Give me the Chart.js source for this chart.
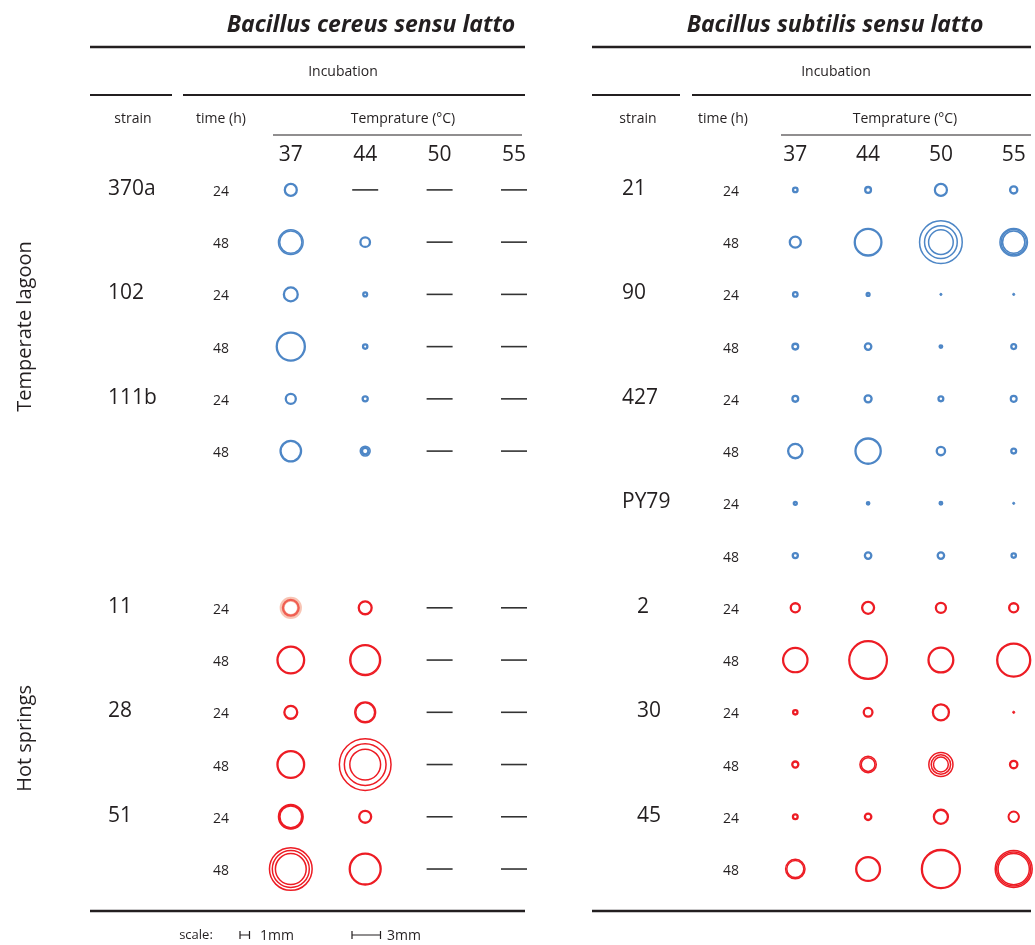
<!DOCTYPE html>
<html><head><meta charset="utf-8">
<script src="https://cdn.jsdelivr.net/npm/chart.js@4/dist/chart.umd.min.js"></script>
<style>html,body{margin:0;padding:0;background:#fff}#wrap{position:relative;width:1035px;height:945px}</style>
</head><body><div id="wrap"><canvas id="c" width="1035" height="945"></canvas></div>
<script>
// ---------------- DATA ----------------
const temperatures = ['37', '44', '50', '55'];
const times = ['24', '48'];
const habitats = ['Temperate lagoon', 'Hot springs'];
const panelTitles = ['Bacillus cereus sensu latto', 'Bacillus subtilis sensu latto'];

const cereusStrains = ['370a', '102', '111b', '11', '28', '51'];
const cereusHabitat = [0, 0, 0, 1, 1, 1];
const subtilisStrains = ['21', '90', '427', 'PY79', '2', '30', '45'];
const subtilisHabitat = [0, 0, 0, 0, 1, 1, 1];

// halo diameters in mm: one row per strain x time (24 h, 48 h), one cell per temperature
// null = no growth (dash); several values = concentric halos
const cereusZones = [
  [[1.5], null, null, null],                    // 370a 24
  [[2.75, 2.5], [1.25], null, null],            // 370a 48
  [[1.7], [0.65], null, null],                  // 102 24
  [[3.2], [0.7], null, null],                   // 102 48
  [[1.3], [0.78], null, null],                  // 111b 24
  [[2.4], [1.2, 0.95, 0.75], null, null],       // 111b 48
  [[1.9], [1.6], null, null],                   // 11 24
  [[3.05], [3.4, 3.2], null, null],             // 11 48
  [[1.6], [2.35, 2.15], null, null],            // 28 24
  [[3.05], [5.6, 4.55, 3.4], null, null],       // 28 48
  [[2.75, 2.6, 2.45], [1.5], null, null],       // 51 24
  [[4.65, 4.05, 3.4], [3.5], null, null]        // 51 48
];
const subtilisZones = [
  [[0.72], [0.85], [1.5, 1.35], [1.0]],                 // 21 24
  [[1.4], [3.05], [4.65, 3.6, 2.75], [3.05, 2.8, 2.5]], // 21 48
  [[0.72, 0.55], [0.55], [0.35], [0.4]],                // 90 24
  [[0.85], [0.92], [0.52], [0.75]],                     // 90 48
  [[0.85], [0.98], [0.75], [0.85, 0.72]],               // 427 24
  [[1.75], [2.9], [1.12], [0.75]],                      // 427 48
  [[0.56], [0.5], [0.52], [0.42]],                      // PY79 24
  [[0.78], [0.92], [0.92], [0.7]],                      // PY79 48
  [[1.2], [1.5], [1.3], [1.2]],                         // 2 24
  [[2.8, 2.65], [4.2, 4.05], [2.85], [3.72]],           // 2 48
  [[0.7], [1.16], [1.93], [0.4]],                       // 30 24
  [[0.88], [1.88, 1.6], [2.7, 2.2, 1.72], [1.02]],      // 30 48
  [[0.74], [0.92], [1.72], [1.3, 1.2]],                 // 45 24
  [[2.2, 1.95], [2.75], [4.25], [4.05, 3.75, 3.45]]     // 45 48
];
// diffuse (orange) halo: strain, time, temperature, diameter (mm)
const diffuseStrain = ['11'], diffuseTime = ['24'], diffuseTemp = ['37'], diffuseDiam = [2.35];

const scaleBarsMm = [1, 3];

// ---------------- LAYOUT / STYLE ----------------
const W = 1035, H = 945;
const pxPerMm = 9.5;
const colL = [290.8, 514.0], colR = [795.3, 1013.7]; // pixel of first / last temperature column
const rowTop = 189.9, rowStep = 52.24;
const BLUE = '#4d86c6', RED = '#ed1c24', INK = '#231f20', DASH = '#333333';
const FONT = '"Open Sans", "Noto Sans", sans-serif';

function xRange(p) {
  const unit = (p[1] - p[0]) / (temperatures.length - 1);
  return { min: -p[0] / unit, max: (W - p[0]) / unit };
}
const nTempRows = Math.max(cereusHabitat.filter(h => h === 0).length, subtilisHabitat.filter(h => h === 0).length) * times.length;
const nHotRows = Math.max(cereusHabitat.filter(h => h === 1).length, subtilisHabitat.filter(h => h === 1).length) * times.length;
const habitatStart = [0, nTempRows];
const lastRow = nTempRows + nHotRows - 1;

function rowIndex(habitat, strainsArr, habArr, s, t) {
  let local = 0;
  for (let i = 0; i < s; i++) if (habArr[i] === habitat) local++;
  return habitatStart[habitat] + local * times.length + t;
}

function buildPanel(zones, strains, habArr, axis) {
  const rings = [[], [], []];
  const dashes = [];
  strains.forEach((st, s) => {
    times.forEach((tm, t) => {
      const cells = zones[s * times.length + t];
      const y = rowIndex(habArr[s], strains, habArr, s, t);
      cells.forEach((cell, c) => {
        if (cell === null) { dashes.push({ x: c, y }); return; }
        const lw = cell.length > 1 ? 1.5 : 2.3;
        cell.forEach((d, k) => {
          const r = d * pxPerMm / 2 - lw / 2;
          rings[k].push({ x: c, y, r: Math.max(1.1, r), lw: r < 1.1 ? 1 : lw, dot: r < 1.1, hab: habArr[s] });
        });
      });
    });
  });
  const col = ctx => ctx.raw && ctx.raw.hab === 1 ? RED : BLUE;
  const ds = rings.map((data, k) => ({
    type: 'bubble', label: axis + ' ring ' + (k + 1), data, xAxisID: axis, yAxisID: 'y', clip: false,
    backgroundColor: ctx => ctx.raw && ctx.raw.dot ? col(ctx) : 'rgba(0,0,0,0)',
    borderColor: col,
    borderWidth: ctx => ctx.raw ? ctx.raw.lw : 2,
    hoverBorderWidth: ctx => ctx.raw ? ctx.raw.lw : 2,
    hoverRadius: 0
  }));
  ds.push({
    type: 'scatter', label: axis + ' no growth', data: dashes, xAxisID: axis, yAxisID: 'y', clip: false,
    pointStyle: 'line', pointRadius: 13, pointHoverRadius: 13, borderColor: DASH, borderWidth: 1.6
  });
  return ds;
}

const datasets = [];
// diffuse halo (drawn first, beneath)
const diffuseData = diffuseStrain.map((st, i) => {
  const s = cereusStrains.indexOf(st), t = times.indexOf(diffuseTime[i]);
  return { x: temperatures.indexOf(diffuseTemp[i]), y: rowIndex(cereusHabitat[s], cereusStrains, cereusHabitat, s, t), r: diffuseDiam[i] * pxPerMm / 2 - 2.5 };
});
datasets.push({ type: 'bubble', label: 'diffuse', data: diffuseData, xAxisID: 'xL', yAxisID: 'y', clip: false,
  backgroundColor: 'rgba(0,0,0,0)', borderColor: 'rgba(242,150,120,0.55)', borderWidth: 5, hoverRadius: 0 });
datasets.push(...buildPanel(cereusZones, cereusStrains, cereusHabitat, 'xL'));
datasets.push(...buildPanel(subtilisZones, subtilisStrains, subtilisHabitat, 'xR'));

// ---------------- TABLE DECORATION PLUGIN ----------------
function text(ctx, s, x, y, font, align, base) {
  ctx.font = font; ctx.fillStyle = INK; ctx.textAlign = align || 'center'; ctx.textBaseline = base || 'middle';
  ctx.fillText(s, x, y);
}
function rule(ctx, x1, x2, y, w) {
  ctx.beginPath(); ctx.lineWidth = w; ctx.strokeStyle = INK; ctx.moveTo(x1, y); ctx.lineTo(x2, y); ctx.stroke();
}
const panels = [
  { axis: 'xL', strains: cereusStrains, hab: cereusHabitat, x0: 90, x1: 525, titleX: 371, splitA: 172, splitB: 183,
    strainX: [108, 108], timeX: 221, tempLine: [273, 522], incX: 343, tempHdrX: 403 },
  { axis: 'xR', strains: subtilisStrains, hab: subtilisHabitat, x0: 592, x1: 1031, titleX: 835, splitA: 680, splitB: 692,
    strainX: [622, 637], timeX: 731, timeHdrX: 723, tempLine: [781, 1031], incX: 836, tempHdrX: 905 }
];
const tablePlugin = {
  id: 'table',
  afterDatasetsDraw(chart) {
    const ctx = chart.ctx, ys = chart.scales.y;
    ctx.save();
    panels.forEach((p, pi) => {
      const xs = chart.scales[p.axis];
      text(ctx, panelTitles[pi], p.titleX, 25, 'italic bold 23px ' + FONT);
      rule(ctx, p.x0, p.x1, 47, 2.5);
      text(ctx, 'Incubation', p.incX, 72, '14px ' + FONT);
      rule(ctx, p.x0, p.splitA, 95, 2.2);
      rule(ctx, p.splitB, p.x1, 95, 2.2);
      text(ctx, 'strain', (p.x0 + p.splitA) / 2 + 2, 119, '14px ' + FONT);
      text(ctx, 'time (h)', p.timeHdrX || p.timeX, 119, '14px ' + FONT);
      text(ctx, 'Temprature (°C)', p.tempHdrX, 119, '14px ' + FONT);
      rule(ctx, p.tempLine[0], p.tempLine[1], 135, 1.2);
      temperatures.forEach((t, i) => text(ctx, t, xs.getPixelForValue(i), 155, '21px ' + FONT));
      p.strains.forEach((st, s) => {
        times.forEach((tm, t) => {
          const y = ys.getPixelForValue(rowIndex(p.hab[s], p.strains, p.hab, s, t));
          text(ctx, tm, p.timeX, y + 2, '14px ' + FONT);
          if (t === 0) text(ctx, st, p.strainX[p.hab[s]], y - 1, '21px ' + FONT, 'left');
        });
      });
      rule(ctx, p.x0, p.x1, 911, 2.5);
    });
    // habitat labels
    habitats.forEach((h, hi) => {
      const n = cereusHabitat.filter(v => v === hi).length * times.length;
      const yc = (ys.getPixelForValue(habitatStart[hi]) + ys.getPixelForValue(habitatStart[hi] + n - 1)) / 2 + (hi === 0 ? 6 : 0);
      ctx.save(); ctx.translate(25, yc); ctx.rotate(-Math.PI / 2);
      text(ctx, h, 0, 0, '20px ' + FONT); ctx.restore();
    });
    // scale legend
    text(ctx, 'scale:', 196, 935, '13px ' + FONT);
    const barX = [240, 352], lblX = [260, 387];
    scaleBarsMm.forEach((mm, i) => {
      const len = mm * pxPerMm, x = barX[i], y = 935;
      ctx.beginPath(); ctx.lineWidth = 1.2; ctx.strokeStyle = INK;
      ctx.moveTo(x, y); ctx.lineTo(x + len, y);
      ctx.moveTo(x, y - 4); ctx.lineTo(x, y + 4);
      ctx.moveTo(x + len, y - 4); ctx.lineTo(x + len, y + 4);
      ctx.stroke();
      text(ctx, mm + 'mm', lblX[i], 936, '14px ' + FONT, 'left');
    });
    ctx.restore();
  }
};

const rL = xRange(colL), rR = xRange(colR);
new Chart(document.getElementById('c'), {
  data: { datasets },
  options: {
    responsive: false, animation: false, devicePixelRatio: 1,
    layout: { autoPadding: false, padding: { top: rowTop, bottom: H - (rowTop + rowStep * lastRow), left: 0, right: 0 } },
    scales: {
      xL: { type: 'linear', display: false, min: rL.min, max: rL.max },
      xR: { type: 'linear', display: false, min: rR.min, max: rR.max },
      y: { type: 'linear', display: false, reverse: true, min: 0, max: lastRow }
    },
    plugins: { legend: { display: false }, tooltip: { enabled: false } },
    events: []
  },
  plugins: [tablePlugin]
});
</script></body></html>
